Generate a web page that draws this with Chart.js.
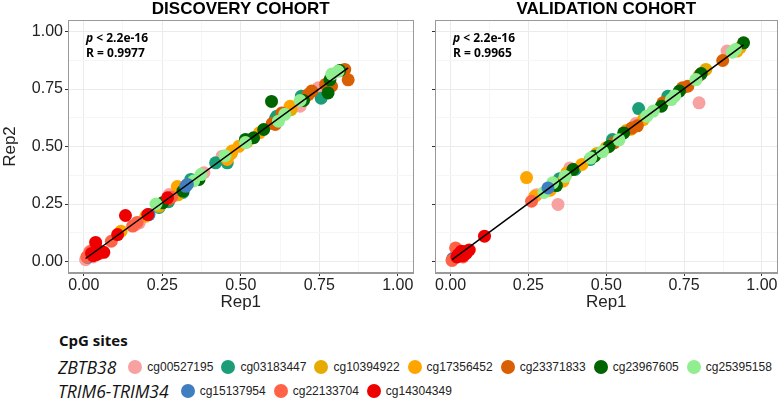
<!DOCTYPE html>
<html>
<head>
<meta charset="utf-8">
<script src="https://cdn.jsdelivr.net/npm/chart.js@4.4.1/dist/chart.umd.min.js"></script>
<style>
  body { margin: 0; background: #fff; width: 784px; height: 399px; position: relative; overflow: hidden; }
  canvas { position: absolute; top: 0; }
  #discovery { left: 0; }
  #validation { left: 420px; }
  .head { position: absolute; left: 59px; top: 331px; font: bold 15px "Open Sans", sans-serif; line-height: 18px; color: #111; }
  .row { position: absolute; left: 58px; display: flex; align-items: center; height: 22px; white-space: nowrap; }
  .gene { font: italic 17.5px "Open Sans", sans-serif; color: #111; margin-right: 12px; }
  .item { display: flex; align-items: center; margin-right: 8px; }
  .dot { width: 14px; height: 14px; border-radius: 50%; margin-right: 5px; }
  .lab { font: 12px "Liberation Sans", Arial, sans-serif; color: #222; }
</style>
</head>
<body>
<canvas id="discovery" width="420" height="313"></canvas>
<canvas id="validation" width="364" height="313"></canvas>
<div class="head">CpG sites</div>
<div class="row" id="row1" style="top:356px"><span class="gene">ZBTB38</span></div>
<div class="row" id="row2" style="top:380px"><span class="gene">TRIM6-TRIM34</span></div>
<script>
// CpG sites, grouped by gene
const zbtb38Sites = ['cg00527195', 'cg03183447', 'cg10394922', 'cg17356452', 'cg23371833', 'cg23967605', 'cg25395158'];
const trimSites = ['cg15137954', 'cg22133704', 'cg14304349'];
const siteColors = {
  cg00527195: '#F7A1A1', cg03183447: '#1B9E77', cg10394922: '#E6AB02', cg17356452: '#FFA500',
  cg23371833: '#D95F02', cg23967605: '#006400', cg25395158: '#90EE90',
  cg15137954: '#3F7FBF', cg22133704: '#FF6347', cg14304349: '#EE0000'
};

// axis ticks
const gridValues = [0, 0.125, 0.25, 0.375, 0.5, 0.625, 0.75, 0.875, 1];
const majorTicks = [0, 0.25, 0.5, 0.75, 1];

// discovery cohort: [Rep1, Rep2]
const disc_cg00527195 = [[0.747,0.755],[0.689,0.675],[0.441,0.458],[0.383,0.386],[0.272,0.291],[0.177,0.168],[0.165,0.16],[0.006,0.008],[0.02,0.045],[0.03,0.02]];
const disc_cg03183447 = [[0.693,0.719],[0.756,0.71],[0.615,0.632],[0.42,0.429],[0.457,0.429],[0.341,0.357],[0.316,0.3],[0.27,0.26],[0.24,0.235],[0.61,0.62]];
const disc_cg10394922 = [[0.52,0.52],[0.47,0.47],[0.30,0.29],[0.24,0.24],[0.66,0.66]];
const disc_cg17356452 = [[0.657,0.675],[0.494,0.501],[0.472,0.48],[0.457,0.444],[0.298,0.326],[0.198,0.197],[0.119,0.132],[0.245,0.25],[0.56,0.56]];
const disc_cg23371833 = [[0.831,0.835],[0.842,0.79],[0.789,0.762],[0.726,0.741],[0.715,0.726],[0.631,0.646],[0.61,0.596],[0.60,0.60],[0.77,0.77],[0.27,0.27]];
const disc_cg23967605 = [[0.598,0.696],[0.815,0.83],[0.784,0.79],[0.778,0.733],[0.70,0.70],[0.573,0.574],[0.541,0.538],[0.515,0.531],[0.367,0.357],[0.316,0.306],[0.251,0.255]];
const disc_cg25395158 = [[0.81,0.827],[0.79,0.815],[0.689,0.70],[0.62,0.61],[0.64,0.64],[0.515,0.517],[0.373,0.378],[0.35,0.35],[0.23,0.25],[0.45,0.46]];
const disc_cg15137954 = [[0.33,0.335],[0.325,0.327],[0.208,0.204],[0.013,0.018]];
const disc_cg22133704 = [[0.156,0.154],[0.17,0.17],[0.088,0.088],[0.02,0.04],[0.03,0.05],[0.05,0.035],[0.01,0.02],[0.04,0.06],[0.28,0.28]];
const disc_cg14304349 = [[0.038,0.083],[0.064,0.04],[0.133,0.2],[0.108,0.117],[0.204,0.204],[0.267,0.277],[0.03,0.025],[0.04,0.03],[0.025,0.035],[0.05,0.045]];

// validation cohort: [Rep1, Rep2]
const val_cg00527195 = [[0.798,0.69],[0.345,0.248],[0.888,0.915],[0.595,0.6],[0.383,0.407],[0.276,0.29],[0.005,0.005],[0.02,0.03]];
const val_cg03183447 = [[0.604,0.665],[0.698,0.719],[0.52,0.53],[0.448,0.443],[0.40,0.40],[0.35,0.36]];
const val_cg10394922 = [[0.82,0.835],[0.93,0.93],[0.58,0.575],[0.47,0.47],[0.31,0.31]];
const val_cg17356452 = [[0.244,0.365],[0.92,0.915],[0.619,0.617],[0.565,0.57],[0.5,0.495],[0.422,0.422],[0.373,0.385],[0.361,0.349],[0.271,0.284],[0.32,0.31]];
const val_cg23371833 = [[0.874,0.874],[0.762,0.762],[0.745,0.755],[0.8,0.81],[0.682,0.69],[0.582,0.58],[0.525,0.516],[0.60,0.59]];
const val_cg23967605 = [[0.941,0.951],[0.805,0.817],[0.735,0.741],[0.677,0.675],[0.556,0.559],[0.509,0.5],[0.462,0.458],[0.393,0.4],[0.34,0.33]];
const val_cg25395158 = [[0.915,0.922],[0.905,0.91],[0.788,0.791],[0.709,0.704],[0.72,0.72],[0.651,0.654],[0.63,0.632],[0.541,0.529],[0.488,0.478],[0.45,0.45],[0.368,0.37],[0.328,0.342],[0.3,0.3]];
const val_cg15137954 = [[0.313,0.32],[0.007,0.013],[0.02,0.02]];
const val_cg22133704 = [[0.26,0.262],[0.016,0.059],[0.005,0.005],[0.05,0.045],[0.04,0.02],[0.03,0.035]];
const val_cg14304349 = [[0.109,0.11],[0.03,0.03],[0.04,0.025],[0.05,0.035],[0.035,0.045],[0.02,0.02],[0.045,0.04],[0.06,0.05],[0.025,0.03]];

const discStats = ['< 2.2e-16', 'R = 0.9977'];
const valStats = ['< 2.2e-16', 'R = 0.9965'];

const discData = {
  cg00527195: disc_cg00527195, cg03183447: disc_cg03183447, cg10394922: disc_cg10394922,
  cg17356452: disc_cg17356452, cg23371833: disc_cg23371833, cg23967605: disc_cg23967605,
  cg25395158: disc_cg25395158, cg15137954: disc_cg15137954, cg22133704: disc_cg22133704,
  cg14304349: disc_cg14304349
};
const valData = {
  cg00527195: val_cg00527195, cg03183447: val_cg03183447, cg10394922: val_cg10394922,
  cg17356452: val_cg17356452, cg23371833: val_cg23371833, cg23967605: val_cg23967605,
  cg25395158: val_cg25395158, cg15137954: val_cg15137954, cg22133704: val_cg22133704,
  cg14304349: val_cg14304349
};

// least squares fit over all points of one cohort
function fitLine(data) {
  const pts = Object.values(data).flat();
  const n = pts.length;
  let sx = 0, sy = 0, sxx = 0, sxy = 0;
  pts.forEach(([x, y]) => { sx += x; sy += y; sxx += x * x; sxy += x * y; });
  const b = (n * sxy - sx * sy) / (n * sxx - sx * sx);
  const a = (sy - b * sx) / n;
  const xs = pts.map(p => p[0]);
  const x0 = Math.min(...xs), x1 = Math.max(...xs);
  return [{ x: x0, y: a + b * x0 }, { x: x1, y: a + b * x1 }];
}

function buildDatasets(data) {
  // red sites drawn on top, so they come first
  const order = [...trimSites].reverse().concat([...zbtb38Sites].reverse());
  const sets = [{
    type: 'line', data: fitLine(data), borderColor: '#000', borderWidth: 1.5,
    pointRadius: 0, fill: false, order: 0
  }];
  order.forEach(site => {
    sets.push({
      label: site,
      data: data[site].map(([x, y]) => ({ x, y })),
      backgroundColor: siteColors[site],
      borderWidth: 0,
      pointRadius: 6.5,
      order: 1
    });
  });
  return sets;
}

const borderPlugin = {
  id: 'panelBorder',
  afterDatasetsDraw(chart) {
    const { ctx, chartArea: a } = chart;
    ctx.save();
    ctx.strokeStyle = '#9a9a9a';
    ctx.lineWidth = 1;
    ctx.strokeRect(Math.round(a.left) + 0.5, Math.round(a.top) + 0.5, Math.round(a.right - a.left) - 1, Math.round(a.bottom - a.top) - 1);
    ctx.restore();
  }
};

const statsPlugin = {
  id: 'stats',
  afterDatasetsDraw(chart, args, opts) {
    const { ctx, chartArea: a } = chart;
    const x = a.left + 18, y1 = a.top + 19, y2 = a.top + 34;
    ctx.save();
    ctx.fillStyle = '#000';
    ctx.textBaseline = 'middle';
    ctx.font = 'italic bold 12px "Open Sans"';
    ctx.fillText('p', x, y1);
    const w = ctx.measureText('p').width;
    ctx.font = 'bold 12px "Open Sans"';
    ctx.fillText(' ' + opts.lines[0], x + w, y1);
    ctx.fillText(opts.lines[1], x, y2);
    ctx.restore();
  }
};

function makeScales(showY, yWidth) {
  const gridOpts = {
    color: c => majorTicks.includes(c.tick.value) ? '#ebebeb' : '#f6f6f6',
    tickColor: c => majorTicks.includes(c.tick.value) ? '#333' : 'rgba(0,0,0,0)',
    tickLength: 3,
    lineWidth: 1
  };
  const tickFont = { family: 'Liberation Sans', size: 16 };
  return {
    x: {
      type: 'linear', min: -0.05, max: 1.05,
      afterBuildTicks: s => { s.ticks = gridValues.map(v => ({ value: v })); },
      afterFit: s => { s.height = 40; },
      ticks: { autoSkip: false, maxRotation: 0, padding: 0, color: '#222', font: tickFont,
               callback: v => majorTicks.includes(v) ? v.toFixed(2) : '' },
      grid: gridOpts,
      border: { color: '#9a9a9a' },
      title: { display: true, text: 'Rep1', color: '#222', font: { family: 'Liberation Sans', size: 17 }, padding: { top: 0, bottom: 0 } }
    },
    y: {
      type: 'linear', min: -0.05, max: 1.05,
      afterBuildTicks: s => { s.ticks = gridValues.map(v => ({ value: v })); },
      afterFit: s => { s.width = yWidth; },
      ticks: { autoSkip: false, padding: 2, color: '#222', font: tickFont,
               callback: v => (showY && majorTicks.includes(v)) ? v.toFixed(2) : '' },
      grid: gridOpts,
      border: { color: '#9a9a9a' },
      title: { display: showY, text: 'Rep2', color: '#222', font: { family: 'Liberation Sans', size: 17 }, padding: { top: 0, bottom: 0 } }
    }
  };
}

function makeChart(id, title, data, stats, showY, yWidth, padRight) {
  new Chart(document.getElementById(id), {
    type: 'scatter',
    data: { datasets: buildDatasets(data) },
    options: {
      responsive: false,
      animation: false,
      layout: { padding: { left: 0, right: padRight, top: 0, bottom: 0 } },
      scales: makeScales(showY, yWidth),
      plugins: {
        legend: { display: false },
        tooltip: { enabled: false },
        title: { display: true, text: title, fullSize: false, color: '#000',
                 font: { family: 'Liberation Sans', size: 17, weight: 'bold', lineHeight: 1.06 },
                 padding: { top: 0, bottom: 2 } },
        stats: { lines: stats }
      }
    },
    plugins: [borderPlugin, statsPlugin]
  });
}

makeChart('discovery', 'DISCOVERY COHORT', discData, discStats, true, 68, 4);
makeChart('validation', 'VALIDATION COHORT', valData, valStats, false, 15, 1);

// legend rows
function fillRow(rowId, sites) {
  const row = document.getElementById(rowId);
  sites.forEach(site => {
    const item = document.createElement('span');
    item.className = 'item';
    item.innerHTML = '<span class="dot" style="background:' + siteColors[site] + '"></span><span class="lab">' + site + '</span>';
    row.appendChild(item);
  });
}
fillRow('row1', zbtb38Sites);
fillRow('row2', trimSites);
</script>
</body>
</html>
